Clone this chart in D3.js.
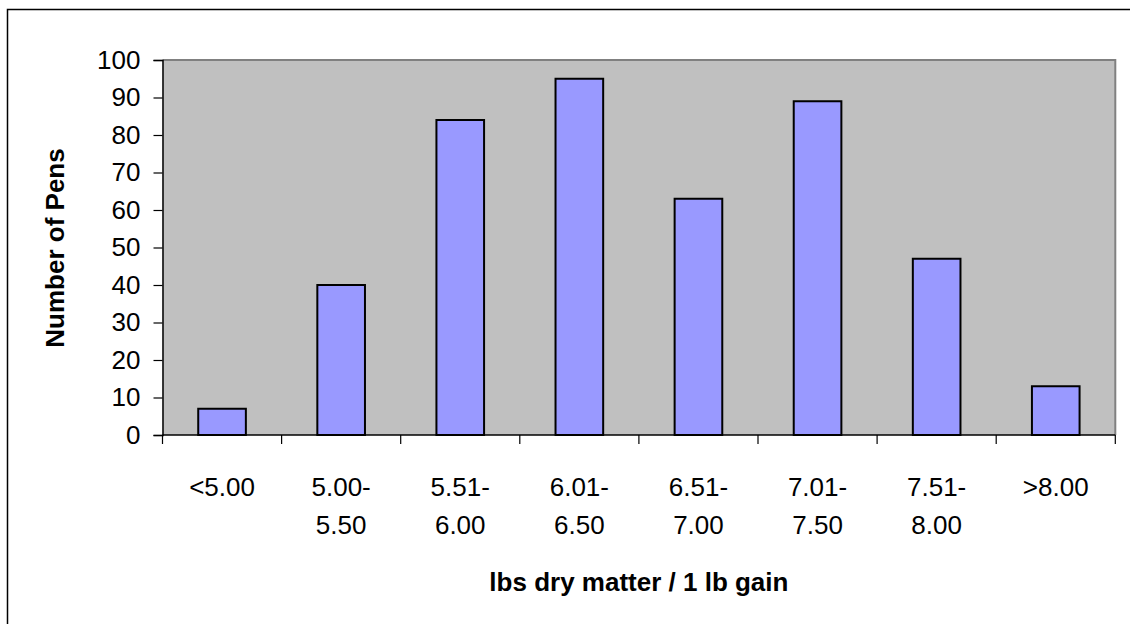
<!DOCTYPE html>
<html>
<head>
<meta charset="utf-8">
<script src="https://cdn.jsdelivr.net/npm/d3@7"></script>
<style>
  body { margin: 0; background: #fff; }
  svg { display: block; font-family: "Liberation Sans", Arial, sans-serif; }
</style>
</head>
<body>
<svg id="chart" width="1130" height="624"></svg>
<script>
// data
const categories = [["<5.00"], ["5.00-", "5.50"], ["5.51-", "6.00"], ["6.01-", "6.50"],
                    ["6.51-", "7.00"], ["7.01-", "7.50"], ["7.51-", "8.00"], [">8.00"]];
const pens = [7, 40, 84, 95, 63, 89, 47, 13];
const yTicks = [0, 10, 20, 30, 40, 50, 60, 70, 80, 90, 100];

const svg = d3.select('#chart');
const plot = {left: 162.5, top: 60, right: 1115.3, bottom: 435};

// outer frame (only left and top visible)
svg.append('path')
    .attr('d', `M7.5,624 V9.5 H1130`)
    .attr('fill', 'none').attr('stroke', '#000').attr('stroke-width', 1.5);

const x = d3.scaleBand()
    .domain(d3.range(categories.length))
    .range([plot.left, plot.right])
    .paddingInner(0.6).paddingOuter(0.3);
const y = d3.scaleLinear().domain([0, 100]).range([plot.bottom, plot.top]);

// plot area
svg.append('rect')
    .attr('x', plot.left).attr('y', plot.top)
    .attr('width', plot.right - plot.left).attr('height', plot.bottom - plot.top)
    .attr('fill', '#c0c0c0');
svg.append('path')
    .attr('d', `M${plot.left},${plot.top} H${plot.right} V${plot.bottom}`)
    .attr('fill', 'none').attr('stroke', '#808080').attr('stroke-width', 2);

// bars
svg.append('g').selectAll('rect')
    .data(pens)
    .join('rect')
    .attr('x', (d, i) => x(i))
    .attr('y', d => y(d))
    .attr('width', x.bandwidth())
    .attr('height', d => y(0) - y(d))
    .attr('fill', '#9999ff')
    .attr('stroke', '#000')
    .attr('stroke-width', 2);

// y axis
const yAxis = svg.append('g')
    .attr('transform', `translate(${plot.left},0)`)
    .call(d3.axisLeft(y).tickValues(yTicks).tickSize(9).tickPadding(13));
yAxis.select('.domain').attr('stroke-width', 1.5);
yAxis.selectAll('.tick line').attr('stroke-width', 1.2);
yAxis.selectAll('.tick text')
    .attr('font-size', 26).attr('font-family', '"Liberation Sans", Arial, sans-serif')
    .attr('fill', '#000');

// x axis line and ticks at category boundaries
const step = x.step();
const xs = d3.range(categories.length + 1).map(i => plot.left + i * step);
svg.append('line')
    .attr('x1', plot.left).attr('x2', plot.right)
    .attr('y1', plot.bottom).attr('y2', plot.bottom)
    .attr('stroke', '#000').attr('stroke-width', 1.5);
svg.append('g').selectAll('line')
    .data(xs)
    .join('line')
    .attr('x1', d => d).attr('x2', d => d)
    .attr('y1', plot.bottom).attr('y2', plot.bottom + 9)
    .attr('stroke', '#000').attr('stroke-width', 1.2);

// category labels
const lab = svg.append('g').selectAll('text')
    .data(categories)
    .join('text')
    .attr('x', (d, i) => x(i) + x.bandwidth() / 2)
    .attr('y', 495.5)
    .attr('text-anchor', 'middle')
    .attr('font-size', 26)
    .attr('fill', '#000');
lab.selectAll('tspan')
    .data(d => d)
    .join('tspan')
    .attr('x', function () { return this.parentNode.getAttribute('x'); })
    .attr('dy', (d, i) => i === 0 ? 0 : 38.5)
    .text(d => d);

// axis titles
svg.append('text')
    .attr('x', (plot.left + plot.right) / 2).attr('y', 591)
    .attr('text-anchor', 'middle')
    .attr('font-size', 26).attr('font-weight', 'bold')
    .text('lbs dry matter / 1 lb gain');
svg.append('text')
    .attr('transform', `translate(64,248) rotate(-90)`)
    .attr('text-anchor', 'middle')
    .attr('font-size', 26).attr('font-weight', 'bold')
    .text('Number of Pens');
</script>
</body>
</html>
